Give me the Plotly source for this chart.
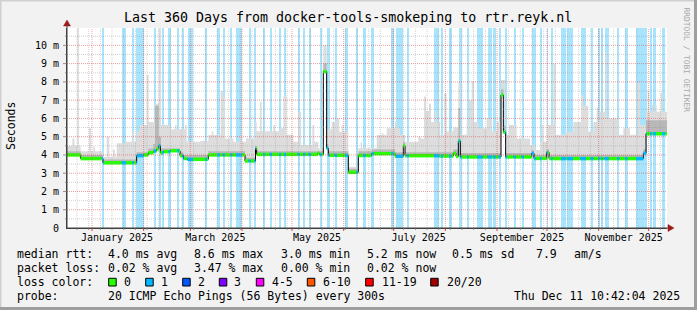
import pandas as pd
import plotly.graph_objects as go

# ---------------- data ----------------
START = pd.Timestamp("2024-12-17 00:00:00")
SPAN_DAYS = 360
Y_TOP_MS = 10.95

# loss episodes (days since START) -> light blue background bars, loss = 1/20
loss_start = [20.8, 32.8, 39.0, 41.4, 52.2, 55.2, 57.0, 61.0, 66.0, 69.2,
              72.3, 83.0, 90.2, 93.4, 98.1, 101.4, 108.9, 112.4, 117.6, 121.6,
              127.2, 130.2, 138.3, 141.8, 144.9, 151.8, 156.0, 160.5, 166.8, 173.4,
              177.6, 182.4, 194.4, 197.4, 203.8, 220.2, 224.4, 229.2, 235.2, 240.0,
              246.0, 252.3, 255.6, 258.9, 262.8, 267.9, 272.7, 278.8, 283.8, 288.0,
              290.4, 296.4, 300.0, 308.1, 314.2, 318.6, 320.4, 322.5, 330.2, 334.8,
              341.4, 349.8, 351.6, 357.0]
loss_end = [22.0, 35.4, 39.9, 45.9, 53.4, 56.0, 58.0, 62.1, 67.2, 70.2,
            75.6, 84.0, 91.8, 94.8, 99.2, 105.0, 110.1, 113.4, 118.8, 123.0,
            128.4, 131.4, 139.5, 143.0, 146.4, 152.7, 157.5, 162.0, 168.6, 174.3,
            179.1, 183.9, 195.9, 201.6, 205.0, 223.4, 225.6, 230.7, 236.7, 240.9,
            249.3, 254.7, 257.1, 260.1, 264.0, 269.1, 274.0, 281.1, 284.7, 288.6,
            291.2, 299.2, 303.6, 311.4, 315.8, 319.5, 321.3, 324.9, 331.4, 336.3,
            347.7, 350.7, 353.4, 358.8]

# median rtt steps (day, ms)
median_steps = [(0, 4.0), (8.2, 3.8), (21.6, 3.57), (41.8, 3.96), (45.8, 4.0),
                (48.8, 4.12), (51.8, 4.21), (53.8, 4.32), (55.0, 4.5), (56.0, 4.12),
                (57.8, 4.18), (61.8, 4.23), (67.8, 3.96), (69.8, 3.81), (71.8, 3.76),
                (84.8, 4.0), (106.8, 3.67), (113.1, 4.36), (113.8, 4.03), (150.4, 4.1),
                (151.4, 4.03), (153.8, 8.56), (155.8, 4.36), (156.8, 3.98), (168.8, 3.05),
                (174.8, 3.97), (182.8, 4.07), (196.8, 3.93), (201.8, 4.5), (202.8, 3.96),
                (222.6, 3.94), (231.8, 4.09), (233.4, 3.92), (234.8, 4.76), (236.0, 3.89),
                (260.4, 7.28), (261.8, 5.24), (263.2, 3.89), (278.8, 4.09), (280.2, 3.81),
                (287.8, 4.14), (289.2, 3.8), (345.8, 4.09), (347.4, 5.16), (360, 5.18)]

# smoke: highest ping per period (day, ms)
smoke_steps = [(0, 4.5), (3.2, 4.9), (4.5, 4.5), (6.2, 10.95), (7.2, 4.5), (8.2, 4.2),
               (13.2, 5.46), (14.4, 4.2), (15.8, 4.45), (16.8, 4.2), (21.6, 3.9), (23.8, 5.0),
               (25.4, 3.9), (27.6, 4.3), (28.8, 3.9), (29.8, 4.64), (34.8, 4.72), (39.4, 5.3),
               (40.2, 4.72), (41.8, 5.3), (43.8, 5.64), (47.8, 8.37), (49.0, 5.8), (52.8, 6.8),
               (55.0, 10.95), (56.4, 5.64), (61.8, 5.4), (64.8, 5.64), (65.8, 5.4), (70.8, 5.64),
               (71.8, 4.72), (79.8, 4.77), (84.8, 5.09), (86.8, 5.3), (87.8, 5.09), (92.2, 7.5),
               (93.8, 7.2), (94.6, 4.9), (99.8, 4.72), (103.4, 5.09), (104.4, 4.72), (107.4, 4.9),
               (112.8, 5.8), (113.8, 5.3), (115.8, 6.9), (116.8, 5.3), (123.8, 5.64), (124.8, 5.3),
               (127.8, 5.46), (129.8, 7.2), (131.8, 5.1), (135.8, 4.72), (138.8, 6.35), (140.4, 4.54),
               (147.2, 5.64), (148.4, 4.72), (150.8, 4.36), (153.8, 10.0), (155.8, 5.4), (158.8, 5.8),
               (161.8, 6.0), (163.4, 5.27), (164.8, 5.64), (165.8, 5.27), (168.8, 3.36), (174.8, 4.36),
               (176.2, 4.7), (177.0, 4.36), (185.8, 5.09), (188.8, 5.2), (189.8, 5.09), (191.8, 5.46),
               (196.8, 5.8), (197.8, 5.46), (199.8, 5.09), (202.8, 4.72), (210.8, 5.0), (212.2, 4.9),
               (214.2, 7.2), (215.4, 6.4), (217.2, 6.8), (218.4, 5.8), (220.8, 6.4), (221.8, 5.8),
               (223.8, 5.1), (226.4, 7.37), (227.8, 5.3), (231.8, 5.5), (234.8, 8.0), (236.0, 5.1),
               (239.8, 5.9), (240.8, 5.1), (241.2, 7.0), (242.8, 8.05), (244.2, 5.8), (246.8, 5.46),
               (251.8, 6.0), (254.8, 5.3), (257.8, 5.8), (260.4, 8.1), (262.8, 5.1), (265.2, 5.64),
               (269.8, 4.9), (277.8, 4.54), (280.8, 4.27), (283.8, 4.72), (284.8, 5.64), (285.8, 4.72),
               (287.8, 5.64), (291.8, 9.0), (293.2, 5.1), (299.8, 5.27), (303.8, 5.8), (308.4, 7.28),
               (309.8, 6.7), (312.8, 5.27), (315.8, 5.8), (317.8, 6.6), (318.8, 5.8), (319.8, 6.37),
               (322.8, 9.65), (323.8, 6.0), (330.8, 5.1), (333.8, 5.46), (337.8, 5.1), (342.2, 7.94),
               (343.8, 5.64), (347.4, 6.37), (348.4, 7.5), (349.4, 6.37), (350.8, 6.73), (351.8, 6.37),
               (352.8, 6.73), (353.8, 6.37), (356.2, 7.4), (357.2, 6.37), (360, 6.37)]

# smoke: inner (denser) part of the ping distribution (day, ms)
inner_steps = [(0, 4.2), (8.2, 4.0), (21.6, 3.75), (41.8, 4.15), (48.8, 4.35), (51.8, 4.6),
               (52.8, 6.7), (55.0, 5.0), (56.4, 4.35), (67.8, 4.15), (69.8, 4.0), (84.8, 4.2),
               (106.8, 3.85), (113.1, 4.5), (113.8, 4.2), (153.8, 9.0), (155.8, 4.6), (156.8, 4.2),
               (168.8, 3.25), (174.8, 4.2), (182.8, 4.3), (196.8, 4.15), (201.8, 4.7), (202.8, 4.15),
               (231.8, 4.3), (234.8, 6.57), (236.0, 4.1), (260.4, 7.6), (261.8, 5.6), (263.2, 4.1),
               (278.8, 4.25), (280.2, 4.0), (287.8, 4.3), (289.2, 4.0), (345.8, 4.3), (347.4, 5.9),
               (360, 5.9)]

y_tick_ms = [0, 1, 2, 3, 4, 5, 6, 7, 8, 9, 10]
y_tick_text = ["0", "1 m", "2 m", "3 m", "4 m", "5 m", "6 m", "7 m", "8 m", "9 m", "10 m"]
x_label_dates = ["2025-01-16", "2025-03-16", "2025-05-16", "2025-07-16", "2025-09-16", "2025-11-16"]
x_label_text = ["January 2025", "March 2025", "May 2025", "July 2025", "September 2025", "November 2025"]

title_text = "Last 360 Days from docker-tools-smokeping to rtr.reyk.nl"
rtt_stats = ["4.0 ms avg", "8.6 ms max", "3.0 ms min", "5.2 ms now", "0.5 ms sd", "7.9", "am/s"]
loss_stats = ["0.02 % avg", "3.47 % max", "0.00 % min", "0.02 % now"]
loss_labels = ["0", "1", "2", "3", "4-5", "6-10", "11-19", "20/20"]
loss_colors = ["#26ff00", "#00b8ff", "#0059ff", "#7e00ff", "#ff00ff", "#ff5500", "#ff0000", "#a10000"]
probe_text = "20 ICMP Echo Pings (56 Bytes) every 300s"
stamp_text = "Thu Dec 11 10:42:04 2025"

# ---------------- helpers ----------------
FONT = "DejaVu Sans Mono"
W, H = 697, 310
L, R, T, B = 67, 667, 28, 228   # plot area in px


def PX(x):
    return (x - L) / (R - L)


def PY(y):
    return (B - y) / (B - T)


def day2t(d):
    return START + pd.Timedelta(days=d)


def step_xy(steps):
    return [day2t(d) for d, _ in steps], [v / 1000.0 for _, v in steps]


def value_at(steps, d):
    v = steps[0][1]
    for sd, sv in steps:
        if sd <= d:
            v = sv
        else:
            break
    return v


fig = go.Figure()

# loss background bars
bar_x = [day2t((s + e) / 2) for s, e in zip(loss_start, loss_end)]
bar_w = [(e - s) * 86400000.0 for s, e in zip(loss_start, loss_end)]
fig.add_trace(go.Bar(x=bar_x, y=[0.0115] * len(bar_x), width=bar_w,
                     marker=dict(color="#a8e4fb", line=dict(width=0)),
                     hoverinfo="skip", showlegend=False))

mx, my = step_xy(median_steps)
sx, sy = step_xy(smoke_steps)
ix, iy = step_xy(inner_steps)

# smoke (outer)
fig.add_trace(go.Scatter(x=mx, y=my, mode="lines", line=dict(width=0, shape="hv"),
                         hoverinfo="skip", showlegend=False))
fig.add_trace(go.Scatter(x=sx, y=sy, mode="lines", line=dict(width=0, shape="hv"),
                         fill="tonexty", fillcolor="#dddddd", hoverinfo="skip", showlegend=False))
# smoke (inner)
fig.add_trace(go.Scatter(x=mx, y=my, mode="lines", line=dict(width=0, shape="hv"),
                         hoverinfo="skip", showlegend=False))
fig.add_trace(go.Scatter(x=ix, y=iy, mode="lines", line=dict(width=0, shape="hv"),
                         fill="tonexty", fillcolor="#b8b8b8", hoverinfo="skip", showlegend=False))
# black median line
fig.add_trace(go.Scatter(x=mx, y=my, mode="lines", line=dict(width=1, shape="hv", color="#000000"),
                         hoverinfo="skip", showlegend=False))

# coloured median band (loss colour per period)
cuts = sorted(set([d for d, _ in median_steps] + loss_start + loss_end + [SPAN_DAYS]))
gx, gy, bx, by = [], [], [], []
for a, b in zip(cuts[:-1], cuts[1:]):
    v = value_at(median_steps, a) / 1000.0
    lost = any(s <= a < e for s, e in zip(loss_start, loss_end))
    tx, ty = (bx, by) if lost else (gx, gy)
    tx += [day2t(a), day2t(b), None]
    ty += [v, v, None]
fig.add_trace(go.Scatter(x=gx, y=gy, mode="lines", line=dict(width=3.5, color=loss_colors[0]),
                         hoverinfo="skip", showlegend=False))
fig.add_trace(go.Scatter(x=bx, y=by, mode="lines", line=dict(width=3.5, color=loss_colors[1]),
                         hoverinfo="skip", showlegend=False))

# ---------------- grid (drawn above data, like rrdtool) ----------------
MINOR = "rgba(150,150,150,0.42)"
MAJOR = "rgba(225,60,60,0.5)"
DASH = "1px,1px"
shapes = []
for k in range(1, 22):
    v = k * 0.0005
    if v > Y_TOP_MS / 1000:
        break
    major = (k % 2 == 0)
    shapes.append(dict(type="line", xref="paper", yref="y", x0=0, x1=1, y0=v, y1=v,
                       line=dict(color=MAJOR if major else MINOR, width=1, dash=DASH)))
    shapes.append(dict(type="line", xref="paper", yref="y", x0=0, x1=-2 / 600 if not major else -4 / 600,
                       y0=v, y1=v, line=dict(color="#909090", width=1)))
months = pd.date_range("2025-01-01", "2025-12-01", freq="MS")
weeks = pd.date_range(START, START + pd.Timedelta(days=SPAN_DAYS), freq="W-MON")
for w in weeks:
    if w in months:
        continue
    shapes.append(dict(type="line", xref="x", yref="paper", x0=w, x1=w, y0=0, y1=1,
                       line=dict(color=MINOR, width=1, dash=DASH)))
    shapes.append(dict(type="line", xref="x", yref="paper", x0=w, x1=w, y0=0, y1=-2 / 200,
                       line=dict(color="#909090", width=1)))
for m in months:
    shapes.append(dict(type="line", xref="x", yref="paper", x0=m, x1=m, y0=0, y1=1,
                       line=dict(color=MAJOR, width=1, dash=DASH)))
    shapes.append(dict(type="line", xref="x", yref="paper", x0=m, x1=m, y0=0, y1=-3 / 200,
                       line=dict(color="#d04040", width=1)))

# axis extensions + arrows
AX = "#404040"
ARROW = "#9b1c1c"
shapes.append(dict(type="line", xref="paper", yref="paper", x0=0, x1=0, y0=0, y1=PY(24),
                   line=dict(color=AX, width=1)))
shapes.append(dict(type="line", xref="paper", yref="paper", x0=0, x1=PX(670), y0=0, y1=0,
                   line=dict(color=AX, width=1)))
shapes.append(dict(type="path", xref="paper", yref="paper",
                   path=f"M {PX(63.5)},{PY(26)} L {PX(67)},{PY(20)} L {PX(70.5)},{PY(26)} Z",
                   fillcolor=ARROW, line=dict(color=ARROW, width=0.5)))
shapes.append(dict(type="path", xref="paper", yref="paper",
                   path=f"M {PX(668)},{PY(224.5)} L {PX(674)},{PY(228)} L {PX(668)},{PY(231.5)} Z",
                   fillcolor=ARROW, line=dict(color=ARROW, width=0.5)))

# frame (3d shade)
shapes.append(dict(type="line", xref="paper", yref="paper", x0=PX(0), x1=PX(697), y0=PY(0.5), y1=PY(0.5),
                   line=dict(color="#cfcfcf", width=2)))
shapes.append(dict(type="line", xref="paper", yref="paper", x0=PX(0.5), x1=PX(0.5), y0=PY(0), y1=PY(310),
                   line=dict(color="#cfcfcf", width=2)))
shapes.append(dict(type="line", xref="paper", yref="paper", x0=PX(695.5), x1=PX(695.5), y0=PY(0), y1=PY(310),
                   line=dict(color="#9e9e9e", width=3)))
shapes.append(dict(type="line", xref="paper", yref="paper", x0=PX(0), x1=PX(697), y0=PY(308.5), y1=PY(308.5),
                   line=dict(color="#9e9e9e", width=3)))

# loss colour boxes
box_x = [108.7, 145.7, 182.7, 219.3, 256.3, 307.3, 365.7, 430.7]
lab_x = [123.3, 160.0, 196.7, 233.3, 270.7, 321.7, 380.7, 445.7]
for bxp, col in zip(box_x, loss_colors):
    shapes.append(dict(type="rect", xref="paper", yref="paper",
                       x0=PX(bxp), x1=PX(bxp + 7.5), y0=PY(278.3), y1=PY(286),
                       fillcolor=col, line=dict(color="#000000", width=1)))

# ---------------- texts ----------------
ann = []


def txt(x, y, s, size=11.5, anchor="left", color="#000000", angle=0):
    ann.append(dict(x=PX(x), y=PY(y), xref="paper", yref="paper", text=s, showarrow=False,
                    xanchor=anchor, yanchor="middle", textangle=angle, borderpad=0,
                    font=dict(family=FONT, size=size, color=color)))


txt(347.5, 18, title_text, size=13.3, anchor="center")
txt(11, 126, "Seconds", size=11.5, anchor="center", angle=-90)
txt(686.5, 60, "RRDTOOL / TOBI OETIKER", size=7.9, anchor="center", color="#a8a8a8", angle=90)

ROW = [254.3, 268.3, 282.3, 296.0]
txt(16, ROW[0], "median rtt:")
for x, s in zip([107, 193.3, 279.7, 365.7, 451, 535, 572.7], rtt_stats):
    txt(x, ROW[0], s)
txt(16, ROW[1], "packet loss:")
for x, s in zip([107, 193.3, 279.7, 365.7], loss_stats):
    txt(x, ROW[1], s)
txt(16, ROW[2], "loss color:")
for x, s in zip(lab_x, loss_labels):
    txt(x, ROW[2], s)
txt(16, ROW[3], "probe:")
txt(107, ROW[3], probe_text)
txt(513.3, ROW[3], stamp_text)

fig.update_layout(
    width=W, height=H,
    margin=dict(l=L, r=W - R, t=T, b=H - B),
    paper_bgcolor="#f2f2f2", plot_bgcolor="#ffffff",
    font=dict(family=FONT, color="#000000"),
    showlegend=False,
    bargap=0,
    shapes=shapes,
    annotations=ann,
    xaxis=dict(type="date", range=[START, START + pd.Timedelta(days=SPAN_DAYS)],
               showgrid=False, zeroline=False, showline=True, linecolor=AX, linewidth=1,
               tickvals=pd.to_datetime(x_label_dates), ticktext=x_label_text, ticks="",
               tickfont=dict(family=FONT, size=10, color="#000000"), fixedrange=True),
    yaxis=dict(range=[0, Y_TOP_MS / 1000.0], showgrid=False, zeroline=False,
               showline=True, linecolor=AX, linewidth=1,
               tickvals=[v / 1000.0 for v in y_tick_ms], ticktext=y_tick_text,
               ticks="", ticklabelstandoff=5,
               tickfont=dict(family=FONT, size=10, color="#000000"), fixedrange=True),
)

fig.write_html("out.html")
